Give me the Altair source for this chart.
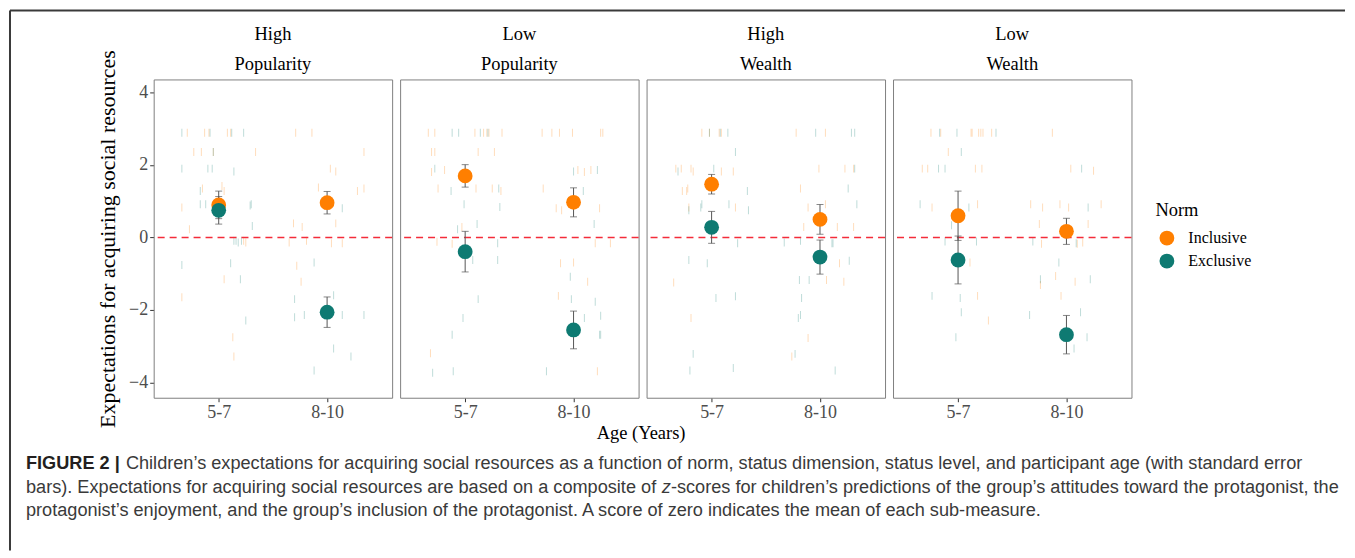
import altair as alt
import pandas as pd

SERIF = "Liberation Serif"
SANS = "Liberation Sans"

PANELS = ["High|Popularity", "Low|Popularity", "High|Wealth", "Low|Wealth"]
AGES = ["5-7", "8-10"]
NORMS = ["Inclusive", "Exclusive"]
COLORS = ["#FF7F00", "#0E7A72"]
TICK_COLORS = ["rgba(255,127,0,0.38)", "rgba(14,122,114,0.38)"]

# group means and standard errors, [5-7, 8-10] per panel
INCLUSIVE_MEAN = [[0.90, 0.96], [1.70, 0.97], [1.47, 0.50], [0.60, 0.17]]
INCLUSIVE_SE = [[0.38, 0.31], [0.31, 0.40], [0.27, 0.41], [0.68, 0.36]]
EXCLUSIVE_MEAN = [[0.75, -2.06], [-0.39, -2.55], [0.28, -0.54], [-0.62, -2.68]]
EXCLUSIVE_SE = [[0.38, 0.42], [0.56, 0.52], [0.44, 0.47], [0.66, 0.53]]

# individual scores (jittered age position, score)
HIGH_POP_INC = [(0.71, 2.89), (0.87, 2.89), (0.91, 2.89), (1.08, 2.89), (1.11, 2.89), (1.71, 2.89), (1.86, 2.89),
                (0.77, 2.36), (0.84, 2.36), (0.95, 2.36), (1.34, 2.36), (2.34, 2.36), (2.03, 1.90), (2.08, 1.82),
                (0.85, 1.35), (1.03, 1.42), (1.05, 1.28), (1.92, 1.38), (2.28, 1.28), (2.34, 1.35), (0.66, 0.83),
                (1.69, 0.39), (1.77, 0.29), (2.08, 0.39), (0.73, 0.23), (1.23, -0.09), (1.25, -0.14), (1.65, -0.14),
                (1.81, -0.09), (2.04, -0.16), (2.14, -0.16), (1.72, -0.78), (1.05, -1.15), (1.76, -1.22),
                (0.66, -1.65), (1.13, -2.75), (1.14, -3.28)]
HIGH_POP_EXC = [(0.66, 2.89), (0.92, 2.89), (1.12, 2.89), (1.23, 2.89), (0.95, 2.36), (0.66, 1.90), (0.90, 1.90),
                (0.94, 1.90), (1.14, 1.82), (0.83, 1.28), (0.88, 0.92), (0.83, 0.92), (1.29, 0.88), (1.30, 0.92),
                (2.14, 0.81), (1.31, 0.32), (1.14, -0.09), (1.16, -0.09), (1.18, -0.14), (1.21, -0.09),
                (0.66, -0.76), (1.11, -0.71), (1.88, -0.69), (1.20, -1.15), (1.70, -1.70), (2.06, -1.59),
                (1.70, -2.20), (1.79, -2.14), (2.14, -2.14), (2.34, -2.14), (1.25, -2.29), (2.06, -3.06),
                (2.22, -3.28), (1.88, -3.67)]
LOW_POP_INC = [(0.66, 2.89), (0.72, 2.89), (1.09, 2.89), (1.17, 2.89), (1.20, 2.89), (1.22, 2.89), (1.34, 2.89),
               (1.71, 2.89), (1.80, 2.89), (1.87, 2.89), (1.99, 2.89), (2.25, 2.89), (2.27, 2.89), (0.69, 2.36),
               (0.72, 2.36), (1.12, 2.36), (1.27, 2.36), (0.69, 1.81), (0.81, 1.86), (2.04, 1.86), (2.10, 1.81),
               (2.16, 1.86), (0.75, 1.35), (1.10, 1.35), (1.25, 1.35), (1.33, 1.28), (1.72, 1.35), (1.84, 0.81),
               (1.89, 0.75), (2.24, 0.81), (0.97, 0.29), (0.74, -0.12), (0.88, -0.17), (2.20, -0.16),
               (2.34, -0.16), (1.88, -0.71), (2.00, -0.69), (2.13, -1.22), (1.86, -1.61), (0.68, -3.19),
               (2.22, -3.69)]
LOW_POP_EXC = [(0.88, 2.89), (0.94, 2.89), (1.14, 2.89), (1.21, 2.89), (0.72, 1.90), (2.00, 1.82), (2.22, 1.86),
               (0.87, 1.28), (1.31, 1.35), (2.09, 1.28), (0.99, 0.92), (1.32, 0.84), (1.11, 0.37), (2.19, 0.37),
               (0.93, 0.23), (1.30, -0.16), (1.07, -0.62), (1.30, -0.62), (1.97, -1.08), (1.12, -1.70),
               (1.98, -1.70), (2.20, -1.77), (0.98, -2.22), (2.10, -2.22), (2.25, -2.16), (0.88, -2.68),
               (2.24, -2.68), (2.25, -2.68), (0.70, -3.73), (0.89, -3.69), (1.75, -3.69)]
HIGH_WEALTH_INC = [(0.91, 2.89), (0.98, 2.89), (1.07, 2.89), (1.09, 2.89), (1.78, 2.89), (2.05, 2.89),
                   (0.67, 1.90), (0.72, 1.90), (0.81, 1.90), (0.83, 1.82), (1.09, 1.82), (1.20, 1.82),
                   (1.99, 1.90), (2.23, 1.90), (2.31, 1.90), (0.73, 1.28), (0.77, 1.28), (0.78, 1.35),
                   (1.82, 1.35), (0.79, 0.83), (1.22, 0.83), (1.89, 0.83), (2.05, 0.92), (1.85, 0.29),
                   (2.16, 0.29), (2.31, 0.29), (2.18, -0.71), (0.65, -1.24), (2.06, -1.17), (2.22, -1.22),
                   (0.81, -2.22), (1.89, -2.77), (1.74, -3.28)]
HIGH_WEALTH_EXC = [(0.98, 2.89), (1.08, 2.89), (1.15, 2.89), (1.96, 2.89), (2.29, 2.89), (2.32, 2.89),
                   (1.22, 2.36), (0.69, 1.82), (1.02, 1.90), (2.32, 1.90), (1.33, 1.28), (2.26, 1.35),
                   (0.79, 0.75), (0.90, 0.83), (0.91, 0.92), (1.16, 0.92), (1.34, 0.75), (2.34, 0.92),
                   (1.24, -0.16), (1.67, -0.14), (1.82, -0.09), (2.11, -0.16), (2.12, -0.16), (0.79, -0.62),
                   (0.96, -0.71), (2.27, -0.64), (1.81, -1.17), (1.90, -1.17), (1.04, -1.67), (1.22, -1.62),
                   (1.83, -1.67), (1.80, -2.22), (1.82, -2.14), (0.83, -3.21), (1.77, -3.21), (0.80, -3.67),
                   (1.20, -3.60), (2.14, -3.67)]
LOW_WEALTH_INC = [(0.75, 2.89), (0.84, 2.89), (1.12, 2.89), (1.13, 2.89), (1.19, 2.89), (1.21, 2.89),
                  (1.23, 2.89), (1.31, 2.89), (1.87, 2.89), (0.91, 2.36), (0.67, 1.90), (0.72, 1.90),
                  (1.16, 1.90), (1.22, 1.90), (2.04, 1.90), (2.25, 1.84), (0.76, 0.83), (1.18, 0.92),
                  (1.67, 0.92), (1.78, 0.83), (1.94, 0.92), (2.02, 0.83), (2.32, 0.92), (1.75, 0.37),
                  (2.20, 0.37), (1.77, -0.17), (2.10, -0.17), (2.15, -0.14), (1.11, -0.69), (1.76, -1.31),
                  (1.90, -1.06), (2.08, -1.22), (1.18, -1.61), (1.95, -1.61), (1.28, -2.29)]
LOW_WEALTH_EXC = [(0.83, 2.89), (0.99, 2.89), (1.35, 2.89), (1.03, 2.36), (0.82, 1.90), (0.88, 1.90),
                  (2.14, 1.90), (0.65, 0.92), (1.10, 0.83), (2.20, 0.83), (0.94, 0.34), (0.88, -0.11),
                  (1.17, -0.11), (1.69, -0.11), (2.09, -0.16), (1.93, -0.69), (1.76, -1.15), (2.22, -1.15),
                  (0.76, -1.61), (1.02, -1.67), (1.03, -2.06), (1.66, -2.14), (2.13, -2.06), (0.98, -2.75),
                  (2.19, -2.75), (2.07, -3.06)]

RAW = [(HIGH_POP_INC, HIGH_POP_EXC), (LOW_POP_INC, LOW_POP_EXC),
       (HIGH_WEALTH_INC, HIGH_WEALTH_EXC), (LOW_WEALTH_INC, LOW_WEALTH_EXC)]

Y_TITLE = "Expectations for acquiring social resources"
X_TITLE = "Age (Years)"
CAPTION_BOLD = "FIGURE 2 |"
CAPTION_1 = "Children\u2019s expectations for acquiring social resources as a function of norm, status dimension, status level, and participant age (with standard error"
CAPTION_2A = "bars). Expectations for acquiring social resources are based on a composite of "
CAPTION_2Z = "z"
CAPTION_2B = "-scores for children\u2019s predictions of the group\u2019s attitudes toward the protagonist, the"
CAPTION_3 = "protagonist\u2019s enjoyment, and the group\u2019s inclusion of the protagonist. A score of zero indicates the mean of each sub-measure."

# Liberation Sans (Arial metrics) advance widths, per 1000 em, to place inline style runs
_W = {c: 556 for c in "abdeghnopqu0123456789"}
_W.update({c: 500 for c in "cksvxyz"})
_W.update({"f": 278, "t": 278, "i": 222, "j": 222, "l": 222, "m": 833, "r": 333, "w": 722,
           " ": 278, ".": 278, ",": 278, "(": 333, ")": 333, "-": 333, "\u2019": 222,
           "E": 667, "A": 667, "C": 722})
_WB = {"F": 611, "I": 278, "G": 778, "U": 722, "R": 722, "E": 667, " ": 278, "2": 556, "|": 280}


def text_width(s, size, table):
    return sum(table.get(ch, 556) for ch in s) * size / 1000.0


rows = []
for p, panel in enumerate(PANELS):
    for n, norm in enumerate(NORMS):
        means = (INCLUSIVE_MEAN if n == 0 else EXCLUSIVE_MEAN)[p]
        ses = (INCLUSIVE_SE if n == 0 else EXCLUSIVE_SE)[p]
        for a in range(2):
            rows.append(dict(kind="summary", panel=panel, norm=norm, x=a + 1, y=means[a],
                             lo=means[a] - ses[a], hi=means[a] + ses[a]))
        for (xv, yv) in RAW[p][n]:
            rows.append(dict(kind="raw", panel=panel, norm=norm, x=xv, y=yv, lo=None, hi=None))
df = pd.DataFrame(rows)

XSCALE = alt.Scale(domain=[0.4, 2.6], nice=False, zero=False)
YSCALE = alt.Scale(domain=[-4.42, 4.36], nice=False, zero=False)
XAXIS = alt.Axis(values=[1, 2], labelExpr=f"datum.value == 1 ? '{AGES[0]}' : '{AGES[1]}'", title=None)
YAXIS = alt.Axis(values=[-4, -2, 0, 2, 4], title=Y_TITLE, titlePadding=9)


def xe(field="x"):
    return alt.X(f"{field}:Q", scale=XSCALE, axis=XAXIS, title=None)


def ye(field):
    return alt.Y(f"{field}:Q", scale=YSCALE, axis=YAXIS, title=Y_TITLE)


base = alt.Chart()
one_per_panel = "datum.kind == 'summary' && datum.x == 1 && datum.norm == '%s'" % NORMS[0]
first_only = one_per_panel + " && datum.panel == '%s'" % PANELS[0]

ticks = base.transform_filter("datum.kind == 'raw'").transform_calculate(
    tc=f"datum.norm == '{NORMS[0]}' ? '{TICK_COLORS[0]}' : '{TICK_COLORS[1]}'"
).mark_tick(orient="vertical", size=8, thickness=1).encode(
    x=xe(), y=ye("y"), color=alt.Color("tc:N", scale=None)
)

zero = base.transform_filter(one_per_panel).mark_rule(
    color="#F42C3A", strokeDash=[7, 5], strokeWidth=1.6
).encode(y=alt.datum(0))

summ = base.transform_filter("datum.kind == 'summary'")
bars = summ.mark_rule(color="#555555", strokeWidth=1).encode(x=xe(), y=ye("lo"), y2="hi:Q")
cap_lo = summ.mark_tick(orient="horizontal", size=7, thickness=1, color="#555555").encode(x=xe(), y=ye("lo"))
cap_hi = summ.mark_tick(orient="horizontal", size=7, thickness=1, color="#555555").encode(x=xe(), y=ye("hi"))
points = summ.mark_circle(size=220, opacity=1, fillOpacity=1).encode(
    x=xe(), y=ye("y"),
    color=alt.Color("norm:N", scale=alt.Scale(domain=NORMS, range=COLORS),
                    legend=alt.Legend(title="Norm", orient="none", legendX=1004, legendY=122,
                                      symbolOpacity=1, symbolOffset=3, labelOffset=13)),
    opacity=alt.value(1),
)

deco = base.transform_filter(first_only)
LX, TY, RX, BY = -144, -69, 1194, 472
border_left = deco.mark_rule(color="#3a3a3a", strokeWidth=2).encode(
    x=alt.value(LX), y=alt.value(TY), y2=alt.value(BY))
border_top = deco.mark_rule(color="#3a3a3a", strokeWidth=2).encode(
    x=alt.value(LX), x2=alt.value(RX), y=alt.value(TY))
x_title = deco.mark_text(font=SERIF, fontSize=18.5, color="black", align="center", baseline="middle").encode(
    x=alt.value(488.5), y=alt.value(354), text=alt.value(X_TITLE))

CAP_FS = 18.2
CAP_X = -128
CAP_Y = [385, 409, 433]


def cap_text(txt, x, y, weight="normal", style="normal", color="#3a3a3a"):
    return deco.mark_text(font=SANS, fontSize=CAP_FS, fontWeight=weight, fontStyle=style, color=color,
                          align="left", baseline="middle").encode(
        x=alt.value(x), y=alt.value(y), text=alt.value(txt))


w_bold = text_width(CAPTION_BOLD + " ", CAP_FS, _WB)
w_2a = text_width(CAPTION_2A, CAP_FS, _W)
w_z = text_width(CAPTION_2Z, CAP_FS, _W)
cap_layers = [
    cap_text(CAPTION_BOLD, CAP_X, CAP_Y[0], weight="bold", color="#231f20"),
    cap_text(CAPTION_1, CAP_X + w_bold + 1, CAP_Y[0]),
    cap_text(CAPTION_2A, CAP_X, CAP_Y[1]),
    cap_text(CAPTION_2Z, CAP_X + w_2a, CAP_Y[1], style="italic"),
    cap_text(CAPTION_2B, CAP_X + w_2a + w_z, CAP_Y[1]),
    cap_text(CAPTION_3, CAP_X, CAP_Y[2]),
]

layer = alt.layer(ticks, zero, bars, cap_lo, cap_hi, points,
                  border_left, border_top, x_title, *cap_layers).properties(width=239, height=319)

chart = layer.facet(
    data=df,
    column=alt.Column("panel:N", sort=PANELS,
                      header=alt.Header(title=None, labelExpr="split(datum.value, '|')",
                                        labelFont=SERIF, labelFontSize=18.5, labelColor="black",
                                        labelLineHeight=30, labelPadding=6)),
    spacing=8,
    bounds="flush",
).properties(padding=0).configure_view(
    stroke="#808080", strokeWidth=1
).configure_axis(
    labelFont=SERIF, labelFontSize=18, labelColor="#4d4d4d", tickColor="#333333", tickSize=4,
    labelPadding=2, domain=False, grid=False, titleFont=SERIF, titleFontSize=22,
    titleColor="black", titleFontWeight="normal"
).configure_legend(
    titleFont=SERIF, titleFontSize=18.5, titleFontWeight="normal", titleColor="black",
    labelFont=SERIF, labelFontSize=16, labelColor="black", symbolSize=220, symbolType="circle",
    symbolOpacity=1, rowPadding=6, titlePadding=10
)

chart.save("out.html", embed_options={"renderer": "svg", "actions": False})
